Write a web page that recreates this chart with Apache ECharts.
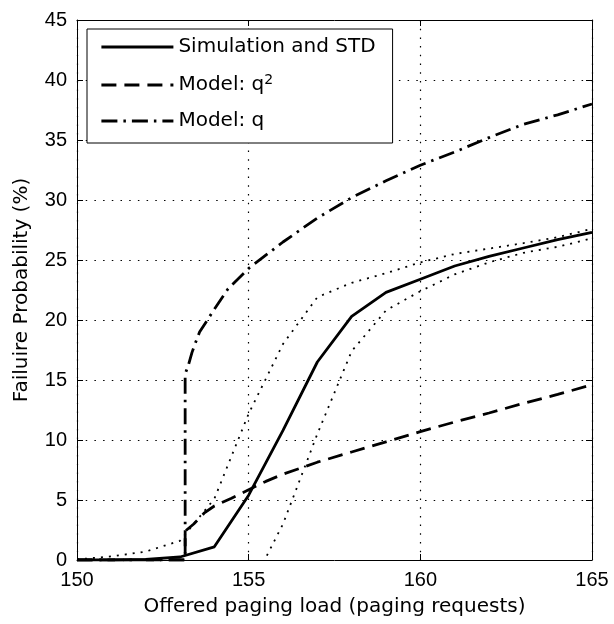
<!DOCTYPE html>
<html><head><meta charset="utf-8">
<script src="https://cdn.jsdelivr.net/npm/echarts@6/dist/echarts.min.js"></script>
<style>html,body{margin:0;padding:0;background:#fff}#c{width:614px;height:624px}</style>
</head><body><div id="c"></div>
<script>
// ---- data ----
const xTicks = [150, 155, 160, 165];
const yTicks = [0, 5, 10, 15, 20, 25, 30, 35, 40, 45];
const legendNames = ['Simulation and STD', 'Model: q2', 'Model: q'];

const simX   = [150, 151, 152, 153, 154, 155, 156, 157, 158, 159, 160, 161, 162, 163, 164, 165];
const simY   = [0, 0, 0.05, 0.25, 1.1, 5.4, 10.8, 16.5, 20.3, 22.3, 23.4, 24.5, 25.3, 26.0, 26.7, 27.3];
const upperY = [0.05, 0.3, 0.7, 1.6, 5.1, 12.2, 18.0, 21.9, 23.1, 23.9, 24.8, 25.5, 25.95, 26.4, 26.9, 27.6];
const lowerX = [155, 156, 157, 158, 159, 160, 161, 162, 163, 164, 165];
const lowerY = [-2.6, 3.0, 10.5, 17.4, 20.8, 22.4, 23.8, 24.8, 25.6, 26.1, 26.8];

const qX = [150, 153.15, 153.15, 153.25, 153.35, 153.45, 153.57, 153.82, 154, 154.4, 155, 156, 157, 158, 159, 160, 161, 162, 163, 164, 165];
const qY = [0, 0, 15.5, 16.3, 17.3, 18.1, 19.0, 20.1, 20.9, 22.6, 24.3, 26.5, 28.5, 30.2, 31.6, 32.9, 34.0, 35.2, 36.3, 37.1, 38.0];

const q2X = [150, 153.15, 153.15, 153.4, 153.7, 154, 154.5, 155, 155.5, 156, 157, 158, 159, 160, 161, 162, 163, 164, 165];
const q2Y = [0, 0, 2.4, 3.0, 3.9, 4.5, 5.15, 5.85, 6.55, 7.15, 8.15, 9.0, 9.85, 10.7, 11.5, 12.25, 13.05, 13.8, 14.6];

const zip = (xs, ys) => xs.map((x, i) => [x, ys[i]]);

const FONT_T = 'Liberation Sans';
const FONT_N = 'DejaVu Sans';

const chart = echarts.init(document.getElementById('c'), null, {renderer: 'canvas'});

const baseX = {
  type: 'value', min: xTicks[0], max: xTicks[xTicks.length - 1], interval: xTicks[1] - xTicks[0],
  axisLine: {onZero: false, lineStyle: {color: '#000', width: 1}},
  axisTick: {inside: true, length: 6, lineStyle: {color: '#000'}},
};
const baseY = {
  type: 'value', min: yTicks[0], max: yTicks[yTicks.length - 1], interval: yTicks[1] - yTicks[0],
  axisLine: {onZero: false, lineStyle: {color: '#000', width: 1}},
  axisTick: {inside: true, length: 6, lineStyle: {color: '#000'}},
};
const gridDots = {show: true, lineStyle: {color: '#000', width: 1.2, type: [1.5, 7.2]}};

chart.setOption({
  animation: false,
  backgroundColor: '#fff',
  grid: {left: 77, right: 22, top: 20, bottom: 64, containLabel: false},
  xAxis: [
    Object.assign({}, baseX, {
      position: 'bottom',
      axisLabel: {fontSize: 20, color: '#000', margin: 10, fontFamily: FONT_T},
      splitLine: gridDots,
      name: 'Offered paging load (paging requests)', nameLocation: 'middle', nameGap: 37,
      nameTextStyle: {fontSize: 20, color: '#000', fontFamily: FONT_N}
    }),
    Object.assign({}, baseX, {position: 'top', axisLabel: {show: false}, splitLine: {show: false}})
  ],
  yAxis: [
    Object.assign({}, baseY, {
      position: 'left',
      axisLabel: {fontSize: 20, color: '#000', margin: 10, fontFamily: FONT_T},
      splitLine: gridDots,
      name: 'Failuire Probability (%)', nameLocation: 'middle', nameGap: 45,
      nameTextStyle: {fontSize: 20, color: '#000', fontFamily: FONT_N}
    }),
    Object.assign({}, baseY, {position: 'right', axisLabel: {show: false}, splitLine: {show: false}})
  ],
  legend: {
    data: legendNames,
    orient: 'vertical', left: 87, top: 29,
    itemWidth: 72, itemHeight: 20, itemGap: 16,
    padding: [8, 17, 12, 13],
    borderColor: '#000', borderWidth: 1, borderRadius: 0, backgroundColor: '#fff',
    selectedMode: false,
    lineStyle: {width: 2.8},
    itemStyle: {color: 'rgba(0,0,0,0)', borderWidth: 0, opacity: 0},
    formatter: function (name) {
      if (name === 'Model: q2') return '{t|Model: q}{s|2}';
      return '{t|' + name + '}';
    },
    textStyle: {
      color: '#000', fontSize: 20, fontFamily: FONT_N,
      rich: {
        t: {fontSize: 20, fontFamily: FONT_N, color: '#000', lineHeight: 24},
        s: {fontSize: 14, fontFamily: FONT_N, color: '#000', lineHeight: 14, verticalAlign: 'top'}
      }
    }
  },
  series: [
    {name: legendNames[0], type: 'line', data: zip(simX, simY), symbol: 'none', z: 5,
     lineStyle: {color: '#000', width: 2.8, type: 'solid'}, itemStyle: {color: '#000'}},
    {name: legendNames[1], type: 'line', data: zip(q2X, q2Y), symbol: 'none', z: 4,
     lineStyle: {color: '#000', width: 2.8, type: [15, 8]}, itemStyle: {color: '#000'}},
    {name: legendNames[2], type: 'line', data: zip(qX, qY), symbol: 'none', z: 4,
     lineStyle: {color: '#000', width: 2.8, type: [16, 6, 2.5, 6]}, itemStyle: {color: '#000'}},
    {name: 'STD upper', type: 'line', data: zip(simX, upperY), symbol: 'none', z: 3,
     lineStyle: {color: '#000', width: 1.8, type: [2, 6]}, itemStyle: {color: '#000'}},
    {name: 'STD lower', type: 'line', data: zip(lowerX, lowerY), symbol: 'none', z: 3,
     lineStyle: {color: '#000', width: 1.8, type: [2, 6]}, itemStyle: {color: '#000'}}
  ]
});
</script>
</body></html>
